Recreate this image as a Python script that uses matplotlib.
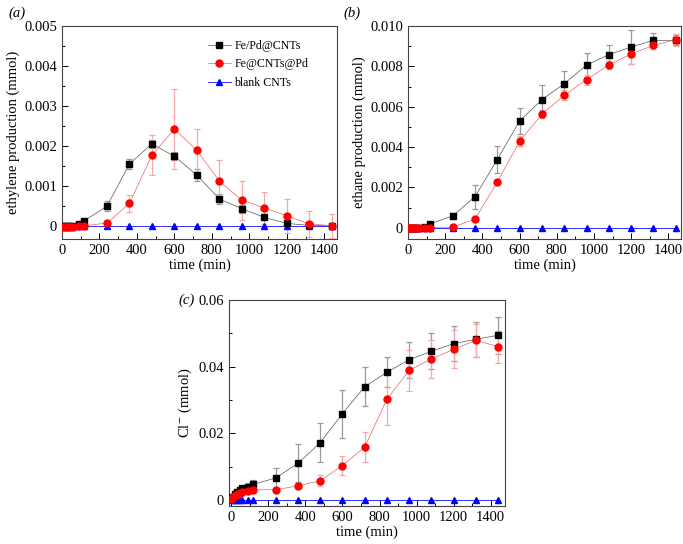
import matplotlib
matplotlib.use("Agg")
import matplotlib.pyplot as plt
from matplotlib.ticker import MultipleLocator, FuncFormatter

plt.rcParams['font.family'] = ['Liberation Serif', 'DejaVu Serif']
plt.rcParams['font.size'] = 10.5
plt.rcParams['mathtext.fontset'] = 'stix'

time = [0, 10, 20, 30, 45, 60, 90, 120, 240, 360, 480, 600, 720, 840, 960, 1080, 1200, 1320, 1440]

# (a) ethylene
eth_fepd = [0, 0, 0, 0, 0, 0, 0.00005, 0.00013, 0.00049, 0.00155, 0.00205, 0.00174, 0.00127, 0.00067, 0.00043, 0.00021, 0.00006, 0.00001, 0.0]
eth_fepd_err = [0, 0, 0, 0, 0, 0, 0.00002, 0.00003, 0.00012, 0.00012, 0.0001, 0.0001, 0.00015, 0.00012, 0.0001, 0.00006, 0.00003, 0.00001, 0.0]
eth_fecnt = [-0.00002, -0.00002, -0.00002, -0.00002, -0.00002, -0.00002, -0.00001, 0.0, 0.00007, 0.00056, 0.00177, 0.00242, 0.00189, 0.00112, 0.00064, 0.00045, 0.00025, 0.00005, 0.0]
eth_fecnt_err = [0, 0, 0, 0, 0, 0, 0, 0, 0.00003, 0.00021, 0.0005, 0.001, 0.00054, 0.00053, 0.00049, 0.0004, 0.00042, 0.00033, 0.0003]
eth_blank = [0] * 19

# (b) ethane
ea_fepd = [0, 0, 0, 0, 0, 0, 0.00003, 0.0002, 0.00058, 0.00154, 0.00338, 0.00529, 0.00635, 0.00714, 0.00806, 0.00858, 0.00896, 0.00929, 0.00929]
ea_fepd_err = [0, 0, 0, 0, 0, 0, 0.00002, 0.00005, 0.00015, 0.0006, 0.00065, 0.00065, 0.00073, 0.00063, 0.00058, 0.0005, 0.00085, 0.00035, 0.00025]
ea_fecnt = [0, 0, 0, 0, 0, 0, 0, 0, 0.00003, 0.00042, 0.00226, 0.00429, 0.00563, 0.00656, 0.00734, 0.00807, 0.00861, 0.00904, 0.00932]
ea_fecnt_err = [0, 0, 0, 0, 0, 0, 0, 0, 0.00002, 0.00005, 0.0001, 0.00025, 0.0002, 0.00025, 0.00025, 0.0002, 0.0005, 0.0002, 0.0003]
ea_blank = [0] * 19

# (c) chloride
cl_fepd = [0.0005, 0.001, 0.0018, 0.0025, 0.003, 0.0035, 0.004, 0.0047, 0.0066, 0.011, 0.0172, 0.0259, 0.034, 0.0383, 0.0421, 0.0446, 0.0469, 0.0482, 0.0494]
cl_fepd_err = [0.0002, 0.0003, 0.0004, 0.0005, 0.0006, 0.0008, 0.0012, 0.0013, 0.003, 0.0057, 0.0058, 0.0072, 0.0058, 0.0045, 0.0054, 0.0054, 0.0053, 0.0052, 0.0056]
cl_fecnt = [0.0003, 0.0008, 0.0012, 0.0017, 0.0022, 0.0025, 0.0028, 0.003, 0.0031, 0.0042, 0.0058, 0.0103, 0.0159, 0.0302, 0.0389, 0.0423, 0.0452, 0.0479, 0.046]
cl_fecnt_err = [0.0001, 0.0001, 0.0002, 0.0002, 0.0003, 0.0003, 0.0003, 0.0003, 0.0003, 0.001, 0.0016, 0.0028, 0.0045, 0.0078, 0.0062, 0.0058, 0.0057, 0.005, 0.0048]
cl_blank = [0] * 19

labels = ['Fe/Pd@CNTs', 'Fe@CNTs@Pd', 'blank CNTs']

fig = plt.figure(figsize=(6.83, 5.44), dpi=100)
ax_a = fig.add_axes([0.0908, 0.5607, 0.4026, 0.3915])
ax_b = fig.add_axes([0.5974, 0.5607, 0.3997, 0.3915])
ax_c = fig.add_axes([0.3353, 0.0699, 0.4041, 0.3787])


def draw(ax, y1, e1, y2, e2, y3):
    ax.errorbar(time, y1, yerr=e1, fmt='none', ecolor='#9a9a9a', elinewidth=0.9,
                capsize=2, capthick=0.9, zorder=2)
    ax.errorbar(time, y2, yerr=e2, fmt='none', ecolor='#f4a8a8', elinewidth=0.9,
                capsize=2, capthick=0.9, zorder=2)
    h1, = ax.plot(time, y1, color='#555555', marker='s', ms=4.5, lw=0.5,
                  mfc='black', mec='black', label=labels[0], zorder=4)
    h2, = ax.plot(time, y2, color='#f06060', marker='o', ms=5, lw=0.5,
                  mfc='red', mec='red', label=labels[1], zorder=4)
    h3, = ax.plot(time, y3, color='#3030ff', marker='^', ms=5, lw=0.7,
                  mfc='blue', mec='blue', label=labels[2], zorder=3)
    ax.set_xlabel('time (min)', labelpad=1)
    ax.xaxis.set_major_locator(MultipleLocator(200))
    ax.xaxis.set_minor_locator(MultipleLocator(100))
    ax.tick_params(which='both', direction='in', top=False, right=False)
    ax.tick_params(which='major', length=4, width=0.7)
    ax.tick_params(which='minor', length=2, width=0.7)
    for s in ax.spines.values():
        s.set_linewidth(0.8)
        s.set_color('#444444')
    return [h1, h2, h3]


def fmt(v, pos):
    if abs(v) < 1e-12:
        return '0'
    return ('%.3f' % v)


hs = draw(ax_a, eth_fepd, eth_fepd_err, eth_fecnt, eth_fecnt_err, eth_blank)
ax_a.set_xlim(0, 1468)
ax_a.set_ylim(-0.00033, 0.005)
ax_a.yaxis.set_major_locator(MultipleLocator(0.001))
ax_a.yaxis.set_minor_locator(MultipleLocator(0.0005))
ax_a.yaxis.set_major_formatter(FuncFormatter(fmt))
ax_a.set_ylabel('ethylene production (mmol)', labelpad=3)
ax_a.legend(handles=hs, loc='upper left', bbox_to_anchor=(0.5, 0.975), frameon=False,
            fontsize=8.6, handlelength=1.9, handletextpad=0.3, labelspacing=0.55,
            borderpad=0.2)
fig.text(0.012, 0.975, '(a)', style='italic', fontsize=10.5, va='center')

draw(ax_b, ea_fepd, ea_fepd_err, ea_fecnt, ea_fecnt_err, ea_blank)
ax_b.set_xlim(0, 1468)
ax_b.set_ylim(-0.00056, 0.010)
ax_b.yaxis.set_major_locator(MultipleLocator(0.002))
ax_b.yaxis.set_minor_locator(MultipleLocator(0.001))
ax_b.yaxis.set_major_formatter(FuncFormatter(fmt))
ax_b.set_ylabel('ethane production (mmol)', labelpad=3)
fig.text(0.503, 0.975, '(b)', style='italic', fontsize=10.5, va='center')

draw(ax_c, cl_fepd, cl_fepd_err, cl_fecnt, cl_fecnt_err, cl_blank)
ax_c.set_xlim(-12, 1477)
ax_c.set_ylim(-0.0018, 0.06)
ax_c.yaxis.set_major_locator(MultipleLocator(0.02))
ax_c.yaxis.set_minor_locator(MultipleLocator(0.01))
ax_c.yaxis.set_major_formatter(FuncFormatter(lambda v, p: '0' if abs(v) < 1e-12 else '%.2f' % v))
ax_c.set_ylabel('Cl$^{-}$ (mmol)', labelpad=3)
fig.text(0.262, 0.448, '(c)', style='italic', fontsize=10.5, va='center')

fig.savefig('out.png', dpi=100)
